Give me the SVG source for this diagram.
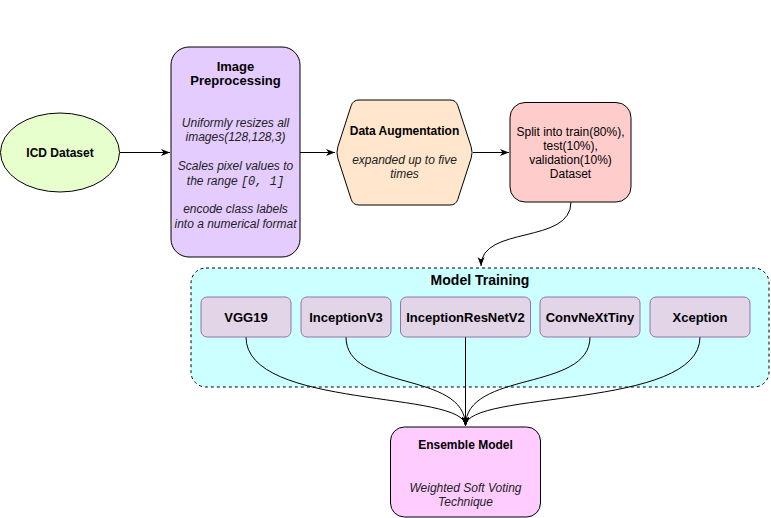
<svg xmlns="http://www.w3.org/2000/svg" width="771" height="518" viewBox="0 0 771 518">
<style>
text{font-family:"Liberation Sans",Arial,sans-serif;font-size:12px;fill:#000;text-anchor:middle}
.b{font-weight:bold}
.t{font-weight:bold;font-size:13px}
.h{font-weight:bold;font-size:14px}
.i{font-style:italic;fill:#222}
.m{font-family:"Liberation Mono","Courier New",monospace}
.node{stroke:#000;stroke-width:1}
.model{fill:#e1d5e7;stroke:#9673a6;stroke-width:1}
.edge{fill:none;stroke:#000;stroke-width:1;marker-end:url(#arr)}
</style>
<defs>
<marker id="arr" markerUnits="userSpaceOnUse" markerWidth="10" markerHeight="8" refX="9" refY="3.5" orient="auto">
<path d="M0,0 L9,3.5 L0,7 L2.5,3.5 Z" fill="#000"/>
</marker>
</defs>
<rect width="771" height="518" fill="#fff"/>
<g id="model-training">
<rect x="191" y="268" width="578" height="119" rx="15" fill="#ccffff" stroke="#000" stroke-dasharray="3,3"/>
<text class="h" x="480" y="285">Model Training</text>
</g>
<g id="connectors">
<path class="edge" d="M120,152.5 L170,152.5"/>
<path class="edge" d="M300,152.5 L335,152.5"/>
<path class="edge" d="M473,152.5 L509,152.5"/>
<path class="edge" d="M571,202 C571,245 481,225 481,266"/>
<path class="edge" d="M246,337 C246,410 465.5,390 465.5,426"/>
<path class="edge" d="M346,337 C346,392 465.5,370 465.5,426"/>
<path class="edge" d="M465.5,337 L465.5,426"/>
<path class="edge" d="M590,337 C590,392 465.5,370 465.5,426"/>
<path class="edge" d="M700,337 C700,410 465.5,390 465.5,426"/>
</g>
<g id="icd-dataset">
<ellipse class="node" cx="60" cy="152.5" rx="59.5" ry="39.5" fill="#e6ffcc"/>
<text class="b" x="60" y="157">ICD Dataset</text>
</g>
<g id="image-preprocessing">
<rect class="node" x="171" y="47" width="129" height="210" rx="18" fill="#e5ccff"/>
<text class="t" x="235.5" y="70.5">Image</text>
<text class="t" x="235.5" y="84.5">Preprocessing</text>
<text class="i" x="235.5" y="127">Uniformly resizes all</text>
<text class="i" x="235.5" y="141.4">images(128,128,3)</text>
<text class="i" x="235.5" y="170.2">Scales pixel values to</text>
<text class="i" x="235.5" y="184.6">the range <tspan class="m">[0, 1]</tspan></text>
<text class="i" x="235.5" y="213.4">encode class labels</text>
<text class="i" x="235.5" y="227.8">into a numerical format</text>
</g>
<g id="data-augmentation">
<path class="node" fill="#ffe6cc" d="M359,100 L450,100 Q456,100 457.85,105.7 L471.15,146.8 Q473,152.5 471.15,158.2 L457.85,199.3 Q456,205 450,205 L359,205 Q353,205 351.15,199.3 L337.85,158.2 Q336,152.5 337.85,146.8 L351.15,105.7 Q353,100 359,100 Z"/>
<text class="b" x="404.5" y="135">Data Augmentation</text>
<text class="i" x="404.5" y="164">expanded up to five</text>
<text class="i" x="404.5" y="178">times</text>
</g>
<g id="split">
<rect class="node" x="510" y="102.5" width="121" height="99.5" rx="15" fill="#ffcccc"/>
<text x="570.5" y="136">Split into train(80%),</text>
<text x="570.5" y="150">test(10%),</text>
<text x="570.5" y="164">validation(10%)</text>
<text x="570.5" y="178">Dataset</text>
</g>
<g id="vgg19">
<rect class="model" x="201" y="297" width="90" height="40" rx="6"/>
<text class="t" x="246" y="321.5">VGG19</text>
</g>
<g id="inceptionv3">
<rect class="model" x="301" y="297" width="90" height="40" rx="6"/>
<text class="t" x="346" y="321.5">InceptionV3</text>
</g>
<g id="inceptionresnetv2">
<rect class="model" x="400.5" y="297" width="130" height="40" rx="6"/>
<text class="t" x="465.5" y="321.5">InceptionResNetV2</text>
</g>
<g id="convnexttiny">
<rect class="model" x="540" y="297" width="100" height="40" rx="6"/>
<text class="t" x="590" y="321.5">ConvNeXtTiny</text>
</g>
<g id="xception">
<rect class="model" x="650" y="297" width="100" height="40" rx="6"/>
<text class="t" x="700" y="321.5">Xception</text>
</g>
<g id="ensemble">
<rect class="node" x="390.5" y="427" width="150" height="90" rx="14" fill="#ffccff"/>
<text class="b" x="465.5" y="449">Ensemble Model</text>
<text class="i" x="465.5" y="491.5">Weighted Soft Voting</text>
<text class="i" x="465.5" y="505.5">Technique</text>
</g>
</svg>
